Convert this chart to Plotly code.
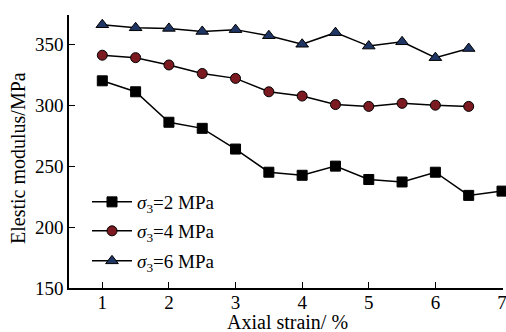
import plotly.graph_objects as go

x_sq = [1, 1.5, 2, 2.5, 3, 3.5, 4, 4.5, 5, 5.5, 6, 6.5, 7]
y_sq = [320, 311, 286, 281, 264, 245, 242.5, 250, 239, 237, 245, 226, 229.5]

x_ci = [1, 1.5, 2, 2.5, 3, 3.5, 4, 4.5, 5, 5.5, 6, 6.5]
y_ci = [341, 339, 333, 326, 322, 311, 307.5, 300.5, 299, 301.5, 300, 299]

x_tr = [1, 1.5, 2, 2.5, 3, 3.5, 4, 4.5, 5, 5.5, 6, 6.5]
y_tr = [366, 363.5, 363, 360.5, 362, 357, 350, 359.5, 348.5, 352, 339, 346.5]

x_ticks = [1, 2, 3, 4, 5, 6, 7]
y_ticks = [150, 200, 250, 300, 350]

names = ["<i>σ</i><sub>3</sub>=2 MPa", "<i>σ</i><sub>3</sub>=4 MPa", "<i>σ</i><sub>3</sub>=6 MPa"]

FONT = "Liberation Serif, Times New Roman, serif"
W, H = 506, 332
L, T = 69, 15
R = W - 503
B = H - 288
PW, PH = W - L - R, H - T - B

def py(ypix):  # window pixel y -> paper
    return (288 - ypix) / PH

def px(xpix):
    return (xpix - 69) / PW

fig = go.Figure()
fig.add_trace(go.Scatter(x=x_sq, y=y_sq, name=names[0], mode="lines+markers",
                         legend="legend", cliponaxis=False,
                         line=dict(color="black", width=1.5),
                         marker=dict(symbol="square", size=10, color="black",
                                     line=dict(color="black", width=1))))
fig.add_trace(go.Scatter(x=x_ci, y=y_ci, name=names[1], mode="lines+markers",
                         legend="legend2", cliponaxis=False,
                         line=dict(color="black", width=1.5),
                         marker=dict(symbol="circle", size=10, color="#7b1a20",
                                     line=dict(color="black", width=1))))
fig.add_trace(go.Scatter(x=x_tr, y=y_tr, name=names[2], mode="lines+markers",
                         legend="legend3", cliponaxis=False,
                         line=dict(color="black", width=1.5),
                         marker=dict(symbol="triangle-up", size=11, color="#1f3563",
                                     line=dict(color="black", width=1))))

def leg(ypix):
    return dict(x=px(87), y=py(ypix), xanchor="left", yanchor="middle",
                bgcolor="rgba(0,0,0,0)", font=dict(family=FONT, size=19),
                itemwidth=40, borderwidth=0)

fig.update_layout(
    width=W, height=H,
    margin=dict(l=L, r=R, t=T, b=B, autoexpand=False),
    paper_bgcolor="white", plot_bgcolor="white",
    font=dict(family=FONT, size=19, color="black"),
    showlegend=True,
    legend=leg(202), legend2=leg(231), legend3=leg(261),
    xaxis=dict(range=[0.5, 7.015], tickvals=x_ticks,
               showgrid=False, zeroline=False, showline=True, automargin=False,
               linecolor="black", linewidth=1.5,
               ticks="inside", ticklen=6, tickwidth=1.2, tickcolor="black",
               ticklabelstandoff=-4, ticklabeloverflow="allow",
               tickfont=dict(family=FONT, size=19)),
    yaxis=dict(range=[150, 374], tickvals=y_ticks,
               showgrid=False, zeroline=False, showline=True, automargin=False,
               linecolor="black", linewidth=1.5,
               ticks="inside", ticklen=6, tickwidth=1.2, tickcolor="black",
               tickfont=dict(family=FONT, size=19)),
    annotations=[
        dict(text="Axial strain/ %", xref="paper", yref="paper",
             x=px(287), y=py(322), xanchor="center", yanchor="middle",
             showarrow=False, font=dict(family=FONT, size=20)),
        dict(text="Elestic modulus/MPa", xref="paper", yref="paper",
             x=px(18), y=py(158), xanchor="center", yanchor="middle",
             textangle=-90, showarrow=False, font=dict(family=FONT, size=20)),
    ],
)

fig.write_html("out.html", config={"displayModeBar": False},
               post_script="document.body.style.margin='0';document.body.style.overflow='hidden';")
